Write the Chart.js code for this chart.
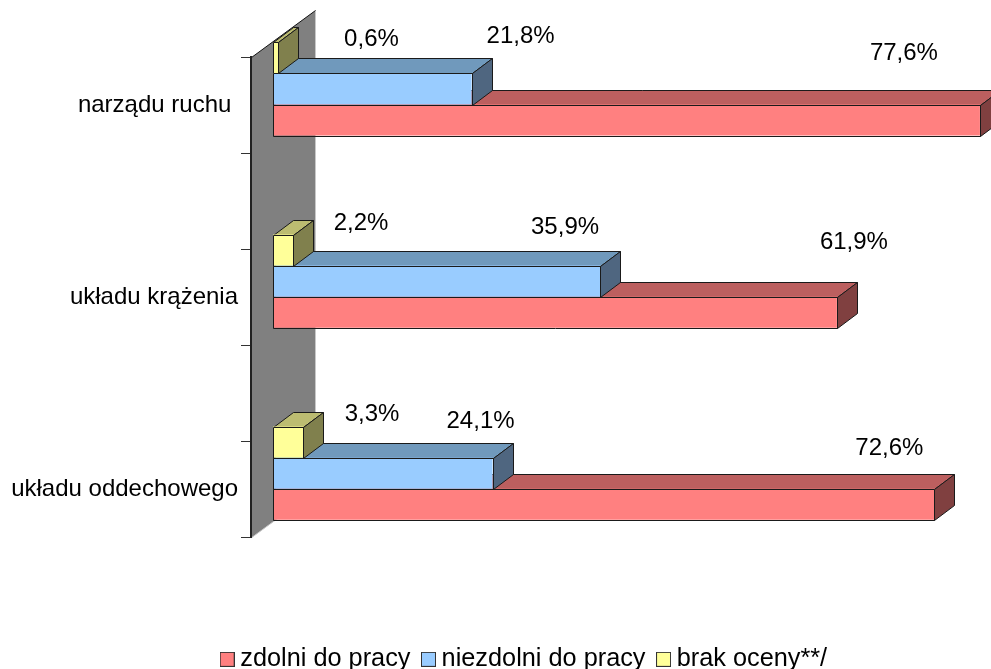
<!DOCTYPE html>
<html><head><meta charset="utf-8">
<style>html,body{margin:0;padding:0;background:#fff}canvas{display:block}</style>
<script src="https://cdn.jsdelivr.net/npm/chart.js@4"></script>
</head><body><canvas id="c" width="991" height="669"></canvas>
<script>
const categories = ['narządu ruchu ', '', 'układu krążenia', '', 'układu oddechowego'];
const seriesNames = ['zdolni do pracy', 'niezdolni do pracy', 'brak oceny**/'];
const zdolni = [77.6, null, 61.9, null, 72.6];
const niezdolni = [21.8, null, 35.9, null, 24.1];
const brakOceny = [0.6, null, 2.2, null, 3.3];

const frontColors = ['#FF8080', '#99CCFF', '#FFFF99'];
const topColors = ['#BC5F5F', '#7099BC', '#BCBC71'];
const sideColors = ['#804040', '#4F6680', '#80804D'];
const edgeColor = '#1a1a1a';

// hand placed label nudges from the end of each bar [dx, dy]
const labelNudges = [
  [[-76, -67], null, [17, -70], null, [-45, -55.5]],
  [[49, -53], null, [-35, -54], null, [-12, -51.5]],
  [[93, -19], null, [68, -27], null, [69, -27.5]]
];

const WALL = {dx: 64, dy: -47};
const BAR_OFF = {dx: 22, dy: -16};
const BAR_DEPTH = {dx: 20, dy: -15};
const FONT = '"Liberation Sans", Arial, sans-serif';

function legendBox(color) {
  const c = document.createElement('canvas');
  c.width = 15; c.height = 15;
  const g = c.getContext('2d');
  g.fillStyle = color; g.fillRect(0, 0, 15, 15);
  g.strokeStyle = '#333'; g.lineWidth = 1; g.strokeRect(0.5, 0.5, 14, 14);
  return c;
}
const legendBoxes = frontColors.map(legendBox);

function poly(ctx, pts, fill, stroke) {
  ctx.beginPath();
  pts.forEach((p, i) => i ? ctx.lineTo(p[0], p[1]) : ctx.moveTo(p[0], p[1]));
  ctx.closePath();
  if (fill) { ctx.fillStyle = fill; ctx.fill(); }
  if (stroke) { ctx.strokeStyle = stroke; ctx.lineWidth = 1; ctx.stroke(); }
}

function barBox(el) {
  const {x, base, y, height} = el.getProps(['x', 'base', 'y', 'height']);
  return {
    t: Math.round(y - height / 2) + 0.5,
    b: Math.round(y + height / 2) + 0.5,
    r: Math.round(x) + 0.5,
    l: Math.round(base) + 0.5
  };
}

const bars3d = {
  id: 'bars3d',
  afterLayout(chart) {
    const lg = chart.legend;
    lg.left += 37; lg.right += 37;
    lg.top += 13; lg.bottom += 13;
  },
  beforeDraw(chart) {
    const {ctx, chartArea: a} = chart;
    const L = a.left + 0.5, T = a.top + 0.5, B = a.bottom + 0.5;
    ctx.save();
    poly(ctx, [[L, T], [L + WALL.dx, T + WALL.dy], [L + WALL.dx, B + WALL.dy], [L, B]], '#808080');
    ctx.lineWidth = 1;
    ctx.strokeStyle = '#c8c8c8';
    ctx.beginPath();
    ctx.moveTo(L, B); ctx.lineTo(L + WALL.dx, B + WALL.dy); ctx.lineTo(L + WALL.dx, T + WALL.dy);
    ctx.stroke();
    ctx.strokeStyle = '#111';
    ctx.beginPath(); ctx.moveTo(L, T); ctx.lineTo(L + WALL.dx, T + WALL.dy); ctx.stroke();
    ctx.restore();
  },
  beforeDatasetsDraw(chart) {
    chart.ctx.save();
    chart.ctx.translate(BAR_OFF.dx, BAR_OFF.dy);
  },
  beforeDatasetDraw(chart, args) {
    const ctx = chart.ctx, i = args.index, d = BAR_DEPTH;
    args.meta.data.forEach((el, k) => {
      if (chart.data.datasets[i].data[k] == null) return;
      const {t, b, r, l} = barBox(el);
      poly(ctx, [[l, t], [r, t], [r + d.dx, t + d.dy], [l + d.dx, t + d.dy]], topColors[i], edgeColor);
      poly(ctx, [[r, t], [r + d.dx, t + d.dy], [r + d.dx, b + d.dy], [r, b]], sideColors[i], edgeColor);
    });
  },
  afterDatasetDraw(chart, args) {
    const ctx = chart.ctx, i = args.index;
    args.meta.data.forEach((el, k) => {
      if (chart.data.datasets[i].data[k] == null) return;
      const {t, b, r, l} = barBox(el);
      poly(ctx, [[l, t], [r, t], [r, b], [l, b]], null, edgeColor);
    });
  },
  afterDatasetsDraw(chart) {
    const ctx = chart.ctx;
    ctx.restore();
    ctx.save();
    ctx.font = '24px ' + FONT;
    ctx.fillStyle = '#000';
    ctx.textAlign = 'center';
    ctx.textBaseline = 'middle';
    chart.data.datasets.forEach((ds, i) => {
      const meta = chart.getDatasetMeta(i);
      ds.data.forEach((v, k) => {
        if (v == null) return;
        const el = meta.data[k], n = labelNudges[i][k];
        ctx.fillText(v.toFixed(1).replace('.', ',') + '%', el.x + BAR_OFF.dx + n[0], el.y + BAR_OFF.dy + n[1]);
      });
    });
    ctx.restore();
  }
};

new Chart(document.getElementById('c'), {
  type: 'bar',
  data: {
    labels: categories,
    datasets: [zdolni, niezdolni, brakOceny].map((d, i) => ({
      label: seriesNames[i],
      data: d,
      order: 3 - i,
      clip: false,
      backgroundColor: frontColors[i],
      borderWidth: 0
    }))
  },
  options: {
    indexAxis: 'y',
    responsive: false,
    animation: false,
    categoryPercentage: 0.97,
    barPercentage: 1,
    layout: {padding: {top: 57, right: 11.2, left: 0, bottom: 0}},
    scales: {
      y: {
        type: 'category',
        afterFit(s) { s.width = 251; },
        grid: {drawOnChartArea: false, drawTicks: true, tickLength: 10, color: '#333'},
        border: {display: true, color: '#222', width: 2},
        ticks: {autoSkip: false, color: '#000', padding: 3, labelOffset: 0, font: {family: FONT, size: 24}, maxRotation: 0}
      },
      x: {
        min: 0, max: 80,
        afterFit(s) { s.height = 79; },
        grid: {display: false},
        border: {display: false},
        ticks: {display: false}
      }
    },
    plugins: {
      tooltip: {enabled: false},
      legend: {
        position: 'bottom',
        labels: {
          usePointStyle: true,
          pointStyleWidth: 1,
          padding: 17.5,
          color: '#000',
          font: {family: FONT, size: 25.3},
          sort: (a, b) => a.datasetIndex - b.datasetIndex,
          generateLabels(chart) {
            return Chart.defaults.plugins.legend.labels.generateLabels(chart).map(l => {
              l.pointStyle = legendBoxes[l.datasetIndex];
              return l;
            });
          }
        }
      }
    }
  },
  plugins: [bars3d]
});
</script></body></html>
